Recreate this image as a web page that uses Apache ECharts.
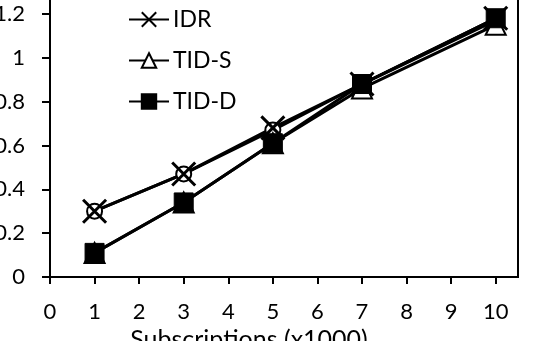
<!DOCTYPE html>
<html>
<head>
<meta charset="utf-8">
<script src="https://cdn.jsdelivr.net/npm/echarts@6/dist/echarts.min.js"></script>
<style>
  html, body { margin: 0; padding: 0; background: #fff; }
  #chart { width: 538px; height: 341px; }
</style>
</head>
<body>
<div id="chart"></div>
<script>
// x positions (thousands of subscriptions)
var subs = [1, 3, 5, 7, 10];
// series values
var circleVals = [0.30, 0.47, 0.67, 0.88, 1.17];
var idrVals = [0.30, 0.47, 0.68, 0.88, 1.18];
var tidsVals = [0.11, 0.34, 0.61, 0.86, 1.15];
var tiddVals = [0.11, 0.34, 0.61, 0.88, 1.18];
var legendNames = ['IDR', 'TID-S', 'TID-D'];

var font = 'Lato';
var crossPath = 'path://M0,0L10,10M10,0L0,10';

function pairs(vals) {
  var out = [];
  for (var i = 0; i < subs.length; i++) {
    out.push([subs[i], vals[i]]);
  }
  return out;
}

var chart = echarts.init(document.getElementById('chart'));
var option = {
  animation: false,
  backgroundColor: '#fff',
  grid: {
    left: 50,
    right: 20,
    top: -30,
    bottom: 64,
    containLabel: false,
    outerBoundsMode: 'none',
    show: true,
    borderColor: '#000',
    borderWidth: 2
  },
  legend: {
    data: legendNames,
    orient: 'vertical',
    left: 123,
    top: 3,
    itemWidth: 40,
    itemHeight: 18,
    itemGap: 18,
    textStyle: { fontFamily: font, fontSize: 23, color: '#000', padding: [0, 0, 0, -1] }
  },
  xAxis: {
    type: 'value',
    min: 0,
    max: 10.5,
    interval: 1,
    name: 'Subscriptions (x1000)',
    nameLocation: 'middle',
    nameGap: 45,
    nameTextStyle: { fontFamily: font, fontSize: 25, color: '#000', padding: [0, 70, 0, 0] },
    axisLine: { lineStyle: { color: '#000', width: 2 } },
    axisTick: { length: 7, lineStyle: { color: '#000', width: 2 } },
    axisLabel: { fontFamily: font, fontSize: 22, color: '#000', margin: 24, showMaxLabel: false },
    splitLine: { show: false }
  },
  yAxis: {
    type: 'value',
    min: 0,
    max: 1.4,
    interval: 0.2,
    axisLine: { show: true, lineStyle: { color: '#000', width: 2 } },
    axisTick: { show: true, length: 8, lineStyle: { color: '#000', width: 2 } },
    axisLabel: { fontFamily: font, fontSize: 22, color: '#000', margin: 25 },
    splitLine: { show: false }
  },
  series: [
    {
      name: 'IDD',
      type: 'line',
      data: pairs(circleVals),
      symbol: 'emptyCircle',
      symbolSize: 15,
      lineStyle: { color: '#000', width: 3 },
      itemStyle: { color: '#000', borderColor: '#000', borderWidth: 3 }
    },
    {
      name: 'IDR',
      type: 'line',
      data: pairs(idrVals),
      symbol: crossPath,
      symbolSize: 23,
      lineStyle: { color: '#000', width: 3 },
      itemStyle: { color: '#000', borderColor: '#000', borderWidth: 3 }
    },
    {
      name: 'TID-S',
      type: 'line',
      data: pairs(tidsVals),
      symbol: 'emptyTriangle',
      symbolSize: 20,
      lineStyle: { color: '#000', width: 3 },
      itemStyle: { color: '#000', borderColor: '#000', borderWidth: 3 }
    },
    {
      name: 'TID-D',
      type: 'line',
      data: pairs(tiddVals),
      symbol: 'rect',
      symbolSize: 19,
      lineStyle: { color: '#000', width: 3 },
      itemStyle: { color: '#000', borderColor: '#000', borderWidth: 1 }
    }
  ]
};
chart.setOption(option);
</script>
</body>
</html>
